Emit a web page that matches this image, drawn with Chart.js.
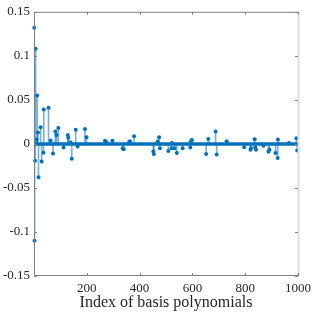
<!DOCTYPE html>
<html>
<head>
<meta charset="utf-8">
<script src="https://cdn.jsdelivr.net/npm/chart.js@4.4.1/dist/chart.umd.min.js"></script>
<style>
  html, body { margin: 0; padding: 0; background: #fff; }
  #wrap { width: 316px; height: 316px; }
</style>
</head>
<body>
<div id="wrap"><canvas id="chart" width="316" height="316"></canvas></div>
<script>
// nonzero coefficients (index of basis polynomial -> value), everything else is 0
const coefIndex = [1, 2, 4, 6, 10, 12, 15, 17, 25, 29, 36, 37, 55, 63, 72, 81, 85, 92,
  112, 128, 130, 138, 143, 158, 165, 193, 199, 269, 275, 297, 336, 340, 361, 364, 379,
  452, 454, 468, 474, 477, 509, 521, 522, 532, 541, 563, 592, 594, 598, 652, 660, 688,
  692, 730, 796, 820, 822, 836, 838, 841, 869, 888, 892, 915, 923, 924, 966, 994, 997];
const coefValue = [0.132, -0.110, -0.019, 0.108, 0.005, 0.055, 0.013, -0.038, 0.019, -0.020,
  -0.010, 0.039, 0.041, 0.004, -0.011, 0.014, 0.010, 0.018,
  -0.004, 0.010, 0.007, 0.002, -0.017, 0.016, -0.003, 0.017, 0.0075, 0.0035, 0.002, 0.0035,
  -0.005, -0.006, 0.0026, 0.0026, 0.0086,
  -0.0085, -0.0115, 0.0027, 0.0075, -0.005, -0.008, -0.005, 0.001, -0.005, -0.0104, -0.005,
  -0.004, 0.003, 0.0045, -0.0115, 0.0056, 0.0142,
  -0.012, 0.003, -0.0037, -0.0067, -0.005, 0.0052, -0.004, -0.0067, -0.002, -0.009, -0.0067,
  -0.0104, -0.016, 0.005, 0.001, 0.0064, -0.0074];
const nBasis = 1000;
const xTicks = [200, 400, 600, 800, 1000];
const yTicks = [-0.15, -0.1, -0.05, 0, 0.05, 0.1, 0.15];

const blue = '#0072BD';
const axisGray = '#808080';

const stems = coefIndex.map((i, k) => ({ x: i, y: [0, coefValue[k]] }));
const heads = coefIndex.map((i, k) => ({ x: i, y: coefValue[k] }));
const baseline = [{ x: 1, y: 0 }, { x: nBasis, y: 0 }];

// MATLAB style box with inward tick marks
const boxPlugin = {
    id: 'box',
    afterDraw(chart) {
        const { ctx, chartArea: a, scales: { x, y } } = chart;
        ctx.save();
        ctx.strokeStyle = '#dedede';
        ctx.lineWidth = 2;
        ctx.beginPath();
        ctx.moveTo(a.right + 0.5, a.top);
        ctx.lineTo(a.right + 0.5, a.bottom);
        ctx.stroke();

        ctx.strokeStyle = axisGray;
        ctx.lineWidth = 1;
        ctx.beginPath();
        ctx.moveTo(a.right, a.top + 0.5);
        ctx.lineTo(a.left + 0.5, a.top + 0.5);
        ctx.lineTo(a.left + 0.5, a.bottom - 0.5);
        ctx.lineTo(a.right, a.bottom - 0.5);
        ctx.stroke();

        ctx.beginPath();
        xTicks.forEach(v => {
            const px = Math.round(x.getPixelForValue(v)) + 0.5;
            ctx.moveTo(px, a.bottom);
            ctx.lineTo(px, a.bottom - 3);
            ctx.moveTo(px, a.top);
            ctx.lineTo(px, a.top + 3);
        });
        yTicks.forEach(v => {
            const py = Math.round(y.getPixelForValue(v)) + 0.5;
            ctx.moveTo(a.left, py);
            ctx.lineTo(a.left + 3, py);
            ctx.moveTo(a.right, py);
            ctx.lineTo(a.right - 3, py);
        });
        ctx.stroke();
        ctx.restore();
    }
};

new Chart(document.getElementById('chart'), {
    type: 'scatter',
    data: {
        datasets: [
            {
                type: 'bar',
                data: stems,
                backgroundColor: 'rgba(0,114,189,0.55)',
                borderWidth: 0,
                barThickness: 1,
                order: 3
            },
            {
                type: 'line',
                data: baseline,
                borderColor: blue,
                borderWidth: 3.5,
                pointRadius: 0,
                order: 2
            },
            {
                data: heads,
                backgroundColor: blue,
                borderWidth: 0,
                pointRadius: 2,
                clip: false,
                order: 1
            }
        ]
    },
    options: {
        responsive: false,
        animation: false,
        layout: { padding: { top: 7, right: 14, left: 0, bottom: 0 } },
        plugins: { legend: { display: false }, tooltip: { enabled: false } },
        scales: {
            x: {
                type: 'linear',
                min: 0,
                max: nBasis,
                offset: false,
                afterBuildTicks: s => { s.ticks = xTicks.map(v => ({ value: v })); },
                afterFit: s => { s.height = 40; },
                grid: { display: false, drawTicks: false },
                border: { display: false },
                ticks: {
                    padding: 5,
                    maxRotation: 0,
                    color: '#262626',
                    font: { family: 'Liberation Serif', size: 13 },
                    callback: v => String(v)
                },
                title: {
                    display: true,
                    text: 'Index of basis polynomials',
                    color: '#262626',
                    padding: { top: 0, bottom: 4 },
                    font: { family: 'Liberation Serif', size: 16 }
                }
            },
            y: {
                min: -0.15,
                max: 0.15,
                afterBuildTicks: s => { s.ticks = yTicks.map(v => ({ value: v })); },
                afterFit: s => { s.width = 34; },
                grid: { display: false, drawTicks: false },
                border: { display: false },
                ticks: {
                    padding: 4,
                    color: '#262626',
                    font: { family: 'Liberation Serif', size: 13 },
                    callback: v => String(Number(v.toFixed(2)))
                }
            }
        }
    },
    plugins: [boxPlugin]
});
</script>
</body>
</html>
